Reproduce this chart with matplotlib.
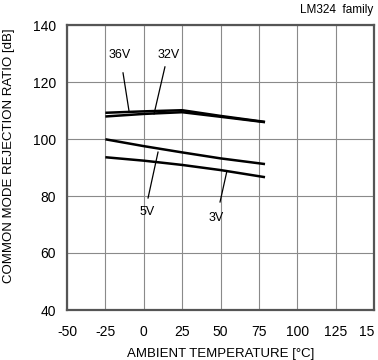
import matplotlib
matplotlib.use("Agg")
import matplotlib.pyplot as plt

plt.rcParams['font.family'] = ['Liberation Sans', 'DejaVu Sans']

# data
temp = [-25, 0, 25, 50, 79]
cmrr_36v = [109.2, 109.7, 110.1, 108.1, 106.0]
cmrr_32v = [107.9, 108.8, 109.4, 107.8, 105.9]
cmrr_5v = [99.9, 97.5, 95.3, 93.2, 91.2]
cmrr_3v = [93.6, 92.4, 90.9, 89.1, 86.6]

xticks = [-50, -25, 0, 25, 50, 75, 100, 125, 150]
xticklabels = ['-50', '-25', '0', '25', '50', '75', '100', '125', '15']
yticks = [40, 60, 80, 100, 120, 140]

fig = plt.figure(figsize=(3.78, 3.60), dpi=100)
ax = fig.add_axes([67/378, 1 - 310/360, (374-67)/378, (310-25)/360])

for y in [cmrr_36v, cmrr_32v, cmrr_5v, cmrr_3v]:
    ax.plot(temp, y, color='black', lw=1.8, solid_capstyle='butt', zorder=3)

ax.set_xlim(-50, 150)
ax.set_ylim(40, 140)
ax.set_xticks(xticks)
ax.set_xticklabels(xticklabels)
ax.get_xticklabels()[-1].set_ha('right')
ax.set_yticks(yticks)
ax.grid(True, color='#8a8a8a', lw=0.8)
ax.tick_params(axis='x', length=0, labelsize=10, pad=11, colors='black')
ax.tick_params(axis='y', length=0, labelsize=10, pad=8, colors='black')
for s in ax.spines.values():
    s.set_color('#555555')
    s.set_linewidth(1.6)

ax.set_xlabel('AMBIENT TEMPERATURE [\u00b0C]', fontsize=9.5, labelpad=6)
ax.set_ylabel('COMMON MODE REJECTION RATIO [dB]', fontsize=9.5)
ax.yaxis.set_label_coords(-0.17, 0.54)

# curve labels with leader lines
notes = [('36V', (-15.5, 129.5), (-13.5, 123.2), (-9.6, 109.8)),
         ('32V', (16.4, 129.5), (13.8, 125.3), (6.7, 108.8)),
         ('5V', (2.1, 74.4), (2.8, 79.3), (9.3, 95.4)),
         ('3V', (47.0, 72.3), (49.7, 77.9), (54.2, 88.8))]
for txt, tpos, p0, p1 in notes:
    ax.text(tpos[0], tpos[1], txt, fontsize=9, ha='center', va='center')
    ax.plot([p0[0], p1[0]], [p0[1], p1[1]], color='black', lw=0.9, zorder=3)

fig.text(373/378, 1 - 10/360, 'LM324  family', fontsize=8.5, ha='right', va='center')

fig.savefig('out.png', dpi=100)
